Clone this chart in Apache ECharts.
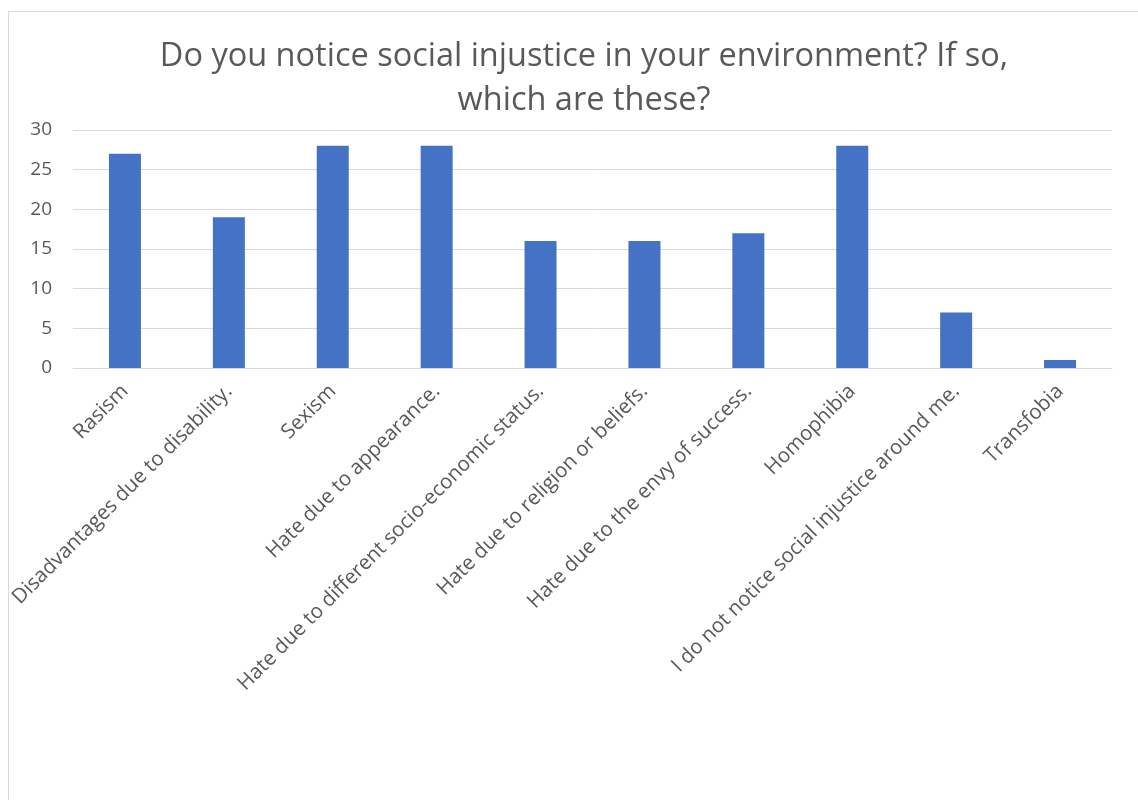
<!DOCTYPE html>
<html>
<head>
<meta charset="utf-8">
<style>
  html, body { margin: 0; padding: 0; background: #fff; }
  #frame { position: absolute; left: 8px; top: 11px; width: 1200px; height: 900px; border: 1px solid #d9d9d9; box-sizing: border-box; }
  #chart { position: absolute; left: 0; top: 0; width: 1138px; height: 800px; }
</style>
<script src="https://cdn.jsdelivr.net/npm/echarts@6/dist/echarts.min.js"></script>
</head>
<body>
<div id="frame"></div>
<div id="chart"></div>
<script>
const titleText = 'Do you notice social injustice in your environment? If so,\nwhich are these?';
const categories = [
  'Rasism',
  'Disadvantages due to disability.',
  'Sexism',
  'Hate due to appearance.',
  'Hate due to different socio-economic status.',
  'Hate due to religion or beliefs.',
  'Hate due to the envy of success.',
  'Homophibia',
  'I do not notice social injustice around me.',
  'Transfobia'
];
const counts = [27, 19, 28, 28, 16, 16, 17, 28, 7, 1];
const yTicks = { min: 0, max: 30, interval: 5 };

const chart = echarts.init(document.getElementById('chart'), null, { renderer: 'canvas' });
chart.setOption({
  animation: false,
  backgroundColor: 'transparent',
  title: {
    text: titleText,
    left: 579,
    textAlign: 'center',
    top: 30,
    textStyle: {
      fontFamily: 'Open Sans',
      fontSize: 32.5,
      fontWeight: 'normal',
      color: '#595959',
      lineHeight: 44
    }
  },
  grid: { left: 73, right: 26, top: 130, bottom: 432, containLabel: false },
  xAxis: {
    type: 'category',
    data: categories,
    axisLine: { show: true, lineStyle: { color: '#d9d9d9', width: 1 } },
    axisTick: { show: false },
    axisLabel: {
      interval: 0,
      rotate: 45,
      margin: 20,
      fontFamily: 'Open Sans',
      fontSize: 20.5,
      color: '#595959'
    }
  },
  yAxis: {
    type: 'value',
    min: yTicks.min,
    max: yTicks.max,
    interval: yTicks.interval,
    axisLine: { show: false },
    axisTick: { show: false },
    splitLine: { lineStyle: { color: '#d9d9d9', width: 1 } },
    axisLabel: {
      margin: 21,
      fontFamily: 'Open Sans',
      fontSize: 19,
      color: '#595959'
    }
  },
  series: [{
    type: 'bar',
    data: counts,
    barWidth: 32,
    itemStyle: { color: '#4472c4' }
  }]
});
</script>
</body>
</html>
